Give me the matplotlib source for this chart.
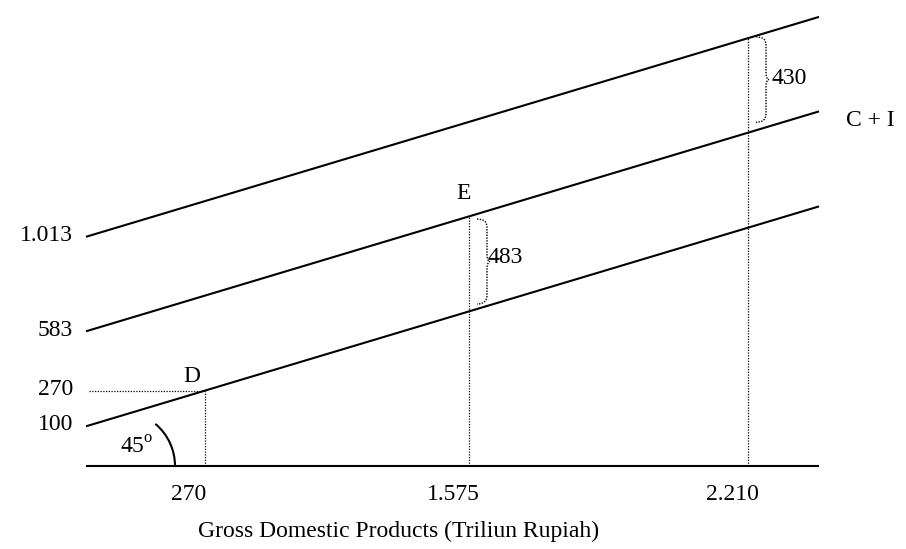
import numpy as np
import matplotlib
matplotlib.use("Agg")
import matplotlib.pyplot as plt
from matplotlib.patches import Arc
from matplotlib.path import Path
from matplotlib.patches import PathPatch

plt.rcParams['font.family'] = ['Liberation Serif', 'DejaVu Serif']
plt.rcParams['mathtext.fontset'] = 'custom'
plt.rcParams['mathtext.rm'] = 'Liberation Serif'

# Labels shown on the diagram (values in Triliun Rupiah)
y_labels = ["100", "270", "583", "1.013"]
x_labels = ["270", "1.575", "2.210"]
gap_labels = ["483", "430"]
point_labels = ["D", "E"]
line_label = "C + I"
x_title = "Gross Domestic Products (Triliun Rupiah)"

# The sketch is not to scale -> geometry in sketch units (about 1 unit = 1 px)
intercepts = np.array([40, 135, 229.5])   # bottom line, C + I, top line
slope = 0.3
x_marks = np.array([118, 382, 661])       # where 270, 1.575, 2.210 sit
x_end = 731

def line_y(i, x):
    return intercepts[i] + slope * x

def brace(ax, x, y0, y1, w=10, tip=3, r=8):
    # dotted curly brace "}" between y0 (bottom) and y1 (top)
    ym = (y0 + y1) / 2
    xv = x + w
    verts = [(x, y1), (xv, y1), (xv, y1 - r),
             (xv, ym + r),
             (xv, ym), (xv + tip, ym),
             (xv, ym), (xv, ym - r),
             (xv, y0 + r),
             (xv, y0), (x, y0)]
    codes = [Path.MOVETO, Path.CURVE3, Path.CURVE3,
             Path.LINETO,
             Path.CURVE3, Path.CURVE3,
             Path.CURVE3, Path.CURVE3,
             Path.LINETO,
             Path.CURVE3, Path.CURVE3]
    ax.add_patch(PathPatch(Path(verts, codes), fill=False, lw=1.0,
                           ls=(0, (1, 1)), ec='black'))

fig = plt.figure(figsize=(9.06, 5.49), dpi=100)
ax = fig.add_axes([87 / 906, 83 / 549, 731 / 906, 450 / 549])
ax.set_xlim(0, x_end)
ax.set_ylim(0, 450)
ax.axis('off')

fs = 17
xs = np.array([0, x_end])

# horizontal axis
ax.plot(xs, [0, 0], color='black', lw=1.5, clip_on=False)

# the three parallel lines
for i in range(3):
    ax.plot(xs, line_y(i, xs), color='black', lw=1.5, clip_on=False)

# dotted guides
dot = dict(color='black', lw=0.9, ls=(0, (1, 1.2)))
d_y = line_y(0, x_marks[0])
ax.plot([2, x_marks[0]], [d_y, d_y], **dot)
ax.plot([x_marks[0], x_marks[0]], [0, d_y], **dot)
ax.plot([x_marks[1], x_marks[1]], [0, line_y(1, x_marks[1])], **dot)
ax.plot([x_marks[2], x_marks[2]], [0, line_y(2, x_marks[2])], **dot)

# left value labels
y_pos = [intercepts[0], d_y, intercepts[1], intercepts[2]]
for lab, yy in zip(y_labels, y_pos):
    ax.text(-14, yy + 1, lab, ha='right', va='center', fontsize=fs)

# bottom value labels
for lab, xx in zip(x_labels, x_marks):
    ax.text(xx - 16, -28, lab, ha='center', va='center', fontsize=fs)

ax.text(312, -65, x_title, ha='center', va='center', fontsize=fs)

# point labels
ax.text(x_marks[0] - 13, d_y + 14, point_labels[0], ha='center', va='center', fontsize=fs)
ax.text(x_marks[1] - 5, line_y(1, x_marks[1]) + 23, point_labels[1], ha='center', va='center', fontsize=fs)

# gaps
xb = x_marks[1] + 8
brace(ax, xb, line_y(0, xb) + 5, line_y(1, xb) - 5)
ax.text(xb + 11, (line_y(0, xb) + line_y(1, xb)) / 2 + 4, gap_labels[0],
        ha='left', va='center', fontsize=fs)
xb = x_marks[2] + 8
brace(ax, xb, line_y(1, xb) + 8, line_y(2, xb) - 1)
ax.text(xb + 15, (line_y(1, xb) + line_y(2, xb)) / 2 + 5, gap_labels[1],
        ha='left', va='center', fontsize=fs)

ax.text(x_end + 28, line_y(1, x_end) - 9, line_label, ha='left', va='center', fontsize=fs)

# 45 degree arc
ax.add_patch(Arc((33, 0), 110, 110, theta1=0, theta2=50, color='black', lw=1.5))
ax.text(33, 18, r'45$^{\mathregular{o}}$', ha='left', va='center', fontsize=fs)

fig.savefig("out.png", dpi=100)
